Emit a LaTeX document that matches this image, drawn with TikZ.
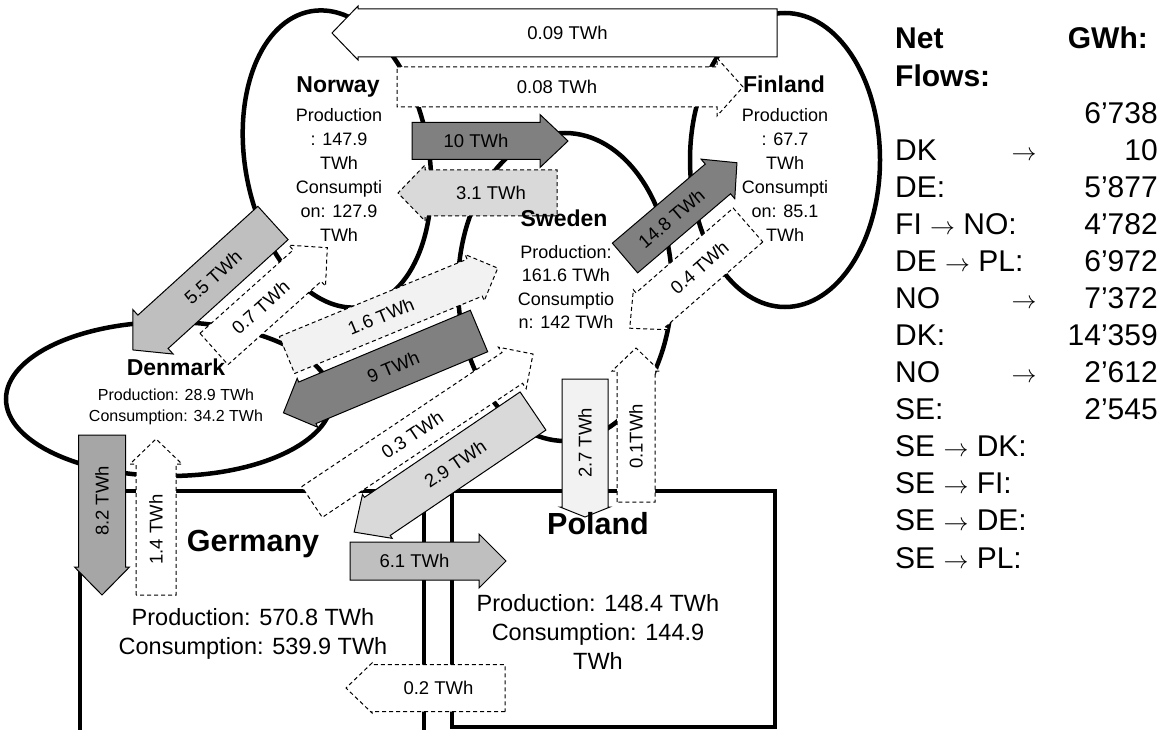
\documentclass[tikz,border=0pt]{standalone}
\usepackage{fontspec}
\setmainfont{Liberation Sans}
\definecolor{cdark}{HTML}{808080}
\definecolor{cmid}{HTML}{A6A6A6}
\definecolor{cmidl}{HTML}{BFBFBF}
\definecolor{clight}{HTML}{D9D9D9}
\definecolor{cvlight}{HTML}{F2F2F2}
\newcommand{\legarrow}{\ensuremath{\rightarrow}}
\tikzset{
  country/.style={line width=4.5pt},
  cbox/.style={line width=4.5pt},
  arr/.style={draw=black, line width=1pt, line join=miter},
  dsh/.style={arr, dash pattern=on 4pt off 3pt},
  lbl/.style={inner sep=0pt, font=\fontsize{18.5}{22}\selectfont},
  ttl/.style={inner sep=0pt, anchor=base, font=\bfseries\fontsize{23}{28}\selectfont},
  bigttl/.style={inner sep=0pt, anchor=base, font=\bfseries\fontsize{30.5}{36}\selectfont},
  ctext/.style={inner sep=0pt, align=center, font=\fontsize{18}{24}\selectfont},
  swtext/.style={inner sep=0pt, align=center, font=\fontsize{18}{23.3}\selectfont},
  dktext/.style={inner sep=0pt, align=center, font=\fontsize{16}{21}\selectfont},
  bigtext/.style={inner sep=0pt, align=center, font=\fontsize{23.5}{29.3}\selectfont},
  leg/.style={inner sep=0pt, font=\fontsize{30}{36}\selectfont},
  legb/.style={inner sep=0pt, font=\bfseries\fontsize{30}{36}\selectfont},
}
% #1 name, #2 style, #3 tail centre, #4 angle, #5 length, #6 body width, #7 head width, #8 head length, #9 label
\newcommand{\blockarr}[9]{%
  \pgfmathsetmacro\barL{#5-#8}%
  \pgfmathsetmacro\barW{#6/2}%
  \pgfmathsetmacro\barH{#7/2}%
  \pgfmathsetmacro\barR{(#4>90)?(#4-180):((#4<-89)?(#4+180):(#4))}%
  \begin{scope}[shift={#3},rotate=#4]
    \path[#2] (0,-\barW) -- (\barL,-\barW) -- (\barL,-\barH) -- (#5,0) -- (\barL,\barH) -- (\barL,\barW) -- (0,\barW) -- cycle;
    \node[lbl,rotate=\barR] (#1) at ({\barL/2},0) {#9};
  \end{scope}}
\begin{document}
\begin{tikzpicture}[x=1pt,y=-1pt]
\useasboundingbox[fill=white] (0,0) rectangle (1170,730);
% countries
\draw[country, rotate around={10:(337,159)}] (337,159) ellipse [x radius=92, y radius=150];
\draw[country] (785,160) ellipse [x radius=95, y radius=147];
\draw[country] (565,287) ellipse [x radius=107, y radius=154];
\draw[country] (169,399) ellipse [x radius=163, y radius=77];
\draw[cbox] (80,491) rectangle (424,745);
\draw[cbox] (452,491) rectangle (775,727);
% flows
\blockarr{a009}{arr,fill=white}{(777,33)}{180}{445}{48}{54}{26}{0.09 TWh}
\blockarr{a008}{dsh,fill=white}{(397,87)}{0}{346}{40}{58}{26}{0.08 TWh}
\blockarr{a10}{arr,fill=cdark}{(412,141)}{0}{156}{37}{53}{28}{10 TWh}
\blockarr{a31}{dsh,fill=clight}{(557,193)}{180}{159}{46}{56}{27}{3.1 TWh}
\blockarr{a07}{dsh,fill=white}{(214,349)}{41.8}{152}{42}{55}{27}{0.7 TWh}
\blockarr{a55}{arr,fill=cmidl}{(273,223)}{-137.8}{189}{45}{60}{27}{5.5 TWh}
\blockarr{a16}{dsh,fill=cvlight}{(287,355)}{22.4}{228}{40}{50}{25}{1.6 TWh}
\blockarr{a9}{arr,fill=cdark}{(479,331)}{-157.3}{212}{45}{53}{26}{9 TWh}
\blockarr{a03}{dsh,fill=white}{(312,502)}{33.8}{266}{37}{50}{25}{0.3 TWh}
\blockarr{a29}{arr,fill=clight}{(533,411)}{-145.9}{216}{46}{53}{28}{2.9 TWh}
\blockarr{a148}{arr,fill=cdark}{(625,258)}{40.4}{147}{39}{52}{25}{14.8 TWh}
\blockarr{a04}{dsh,fill=white}{(748,225)}{-138.9}{157}{45}{53}{28}{0.4 TWh}
\blockarr{a27}{arr,fill=cvlight}{(585,379)}{-90}{138}{46}{50}{10}{2.7 TWh}
\blockarr{a01}{dsh,fill=white}{(636,502)}{90}{154}{38}{48}{23}{0.1TWh}
\blockarr{a82}{arr,fill=cmid}{(102,435)}{-90}{160}{47}{55}{28}{8.2 TWh}
\blockarr{a14}{dsh,fill=white}{(156,595)}{90}{156}{40}{52}{25}{1.4 TWh}
\blockarr{a61}{arr,fill=cmidl}{(350,561)}{0}{156}{38}{54}{27}{6.1 TWh}
\blockarr{a02}{dsh,fill=white}{(505,688)}{180}{159}{47}{50}{26}{0.2 TWh}
% country texts
\node[ttl] (no) at (338,93) {Norway};
\node[ctext] (not) at (339,175) {Production\\: 147.9\\TWh\\Consumpti\\on: 127.9\\TWh};
\node[ttl] (fi) at (784,93) {Finland};
\node[ctext] (fit) at (785,175) {Production\\: 67.7\\TWh\\Consumpti\\on: 85.1\\TWh};
\node[ttl] (se) at (564,226) {Sweden};
\node[swtext] (set) at (566,287) {Production:\\161.6 TWh\\Consumptio\\n: 142 TWh};
\node[ttl] (dk) at (176,375) {Denmark};
\node[dktext] (dkt) at (176,407) {Production: 28.9 TWh\\Consumption: 34.2 TWh};
\node[bigttl] (de) at (253,551) {Germany};
\node[bigtext] (det) at (253,634) {Production: 570.8 TWh\\Consumption: 539.9 TWh};
\node[bigttl] (pl) at (598,534) {Poland};
\node[bigtext] (plt) at (598,632) {Production: 148.4 TWh\\Consumption: 144.9\\TWh};
% legend
\node[legb,anchor=base west] (l1a) at (895,49) {Net};
\node[legb,anchor=base east] (l1b) at (1148,49) {GWh:};
\node[legb,anchor=base west] (l2a) at (895,86.1) {Flows:};
\node[leg,anchor=base east] (l3b) at (1158,123.1) {6’738};
\node[leg,anchor=base west] (l4a) at (895,160.2) {DK};
\node[leg,anchor=base] (l4c) at (1024,160.2) {\legarrow};
\node[leg,anchor=base east] (l4b) at (1158,160.2) {10};
\node[leg,anchor=base west] (l5a) at (895,197.3) {DE:};
\node[leg,anchor=base east] (l5b) at (1158,197.3) {5’877};
\node[leg,anchor=base west] (l6a) at (895,234.4) {FI \legarrow{} NO:};
\node[leg,anchor=base east] (l6b) at (1158,234.4) {4’782};
\node[leg,anchor=base west] (l7a) at (895,271.4) {DE \legarrow{} PL:};
\node[leg,anchor=base east] (l7b) at (1158,271.4) {6’972};
\node[leg,anchor=base west] (l8a) at (895,308.5) {NO};
\node[leg,anchor=base] (l8c) at (1024,308.5) {\legarrow};
\node[leg,anchor=base east] (l8b) at (1158,308.5) {7’372};
\node[leg,anchor=base west] (l9a) at (895,345.6) {DK:};
\node[leg,anchor=base east] (l9b) at (1158,345.6) {14’359};
\node[leg,anchor=base west] (l10a) at (895,382.6) {NO};
\node[leg,anchor=base] (l10c) at (1024,382.6) {\legarrow};
\node[leg,anchor=base east] (l10b) at (1158,382.6) {2’612};
\node[leg,anchor=base west] (l11a) at (895,419.7) {SE:};
\node[leg,anchor=base east] (l11b) at (1158,419.7) {2’545};
\node[leg,anchor=base west] (l12a) at (895,456.8) {SE \legarrow{} DK:};
\node[leg,anchor=base west] (l13a) at (895,493.8) {SE \legarrow{} FI:};
\node[leg,anchor=base west] (l14a) at (895,530.9) {SE \legarrow{} DE:};
\node[leg,anchor=base west] (l15a) at (895,568) {SE \legarrow{} PL:};
\end{tikzpicture}
\end{document}
